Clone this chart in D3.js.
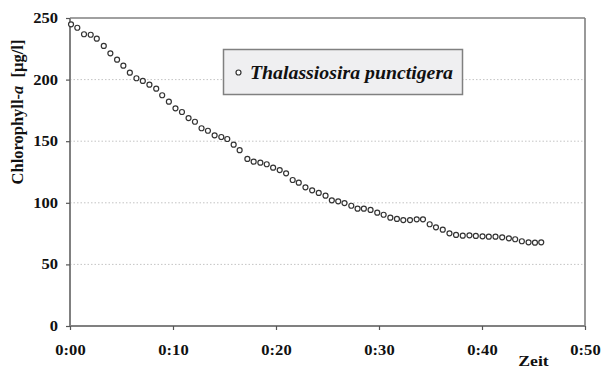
<!DOCTYPE html>
<html><head><meta charset="utf-8">
<script src="https://cdn.jsdelivr.net/npm/d3@7"></script>
<style>
html,body{margin:0;padding:0;background:#fff;}
svg{display:block;}
</style></head>
<body>
<svg id="chart" width="601" height="369"></svg>
<script>
// Data (time in minutes, chlorophyll-a in µg/l)
const timeMin = [0.10,0.71,1.36,2.01,2.60,3.28,3.92,4.57,5.18,5.81,6.45,7.07,7.71,8.37,8.95,9.60,10.24,10.87,11.51,12.13,12.77,13.39,14.04,14.69,15.27,15.89,16.47,17.22,17.83,18.48,19.10,19.72,20.36,20.98,21.62,22.21,22.86,23.51,24.15,24.81,25.42,26.04,26.65,27.31,27.92,28.53,29.18,29.83,30.45,31.10,31.74,32.36,33.01,33.66,34.27,34.92,35.53,36.19,36.84,37.48,38.13,38.78,39.40,40.05,40.66,41.31,41.96,42.61,43.22,43.87,44.52,45.14,45.75];
const chlA = [244.9,242.1,236.8,236.4,233.2,227.3,221.3,216.2,211.3,205.6,201.1,198.9,195.9,192.6,187.3,182.1,176.7,173.7,168.8,165.8,160.5,158.5,154.8,153.4,151.8,147.2,142.7,135.6,133.4,132.6,131.3,128.5,126.6,123.9,118.5,116.3,112.6,110.1,108.0,105.8,102.0,101.2,99.8,97.6,95.2,95.2,94.2,92.0,90.3,87.9,86.9,86.0,86.0,86.6,86.6,82.6,80.1,78.2,75.2,73.9,73.3,73.6,73.1,72.8,72.5,72.5,72.0,71.2,70.4,68.8,67.9,67.6,67.9];
const xTicks = [0,10,20,30,40,50];
const xTickLabels = ["0:00","0:10","0:20","0:30","0:40","0:50"];
const yTicks = [0,50,100,150,200,250];
const seriesName = "Thalassiosira punctigera";
const xTitle = "Zeit";

const FONT = "Liberation Serif";
const STRETCH = 1.18; // reference text is horizontally widened
const svg = d3.select("#chart");
const L = 70, R = 585, T = 18, B = 326;
const x = d3.scaleLinear().domain([0,50]).range([L,R]);
const y = d3.scaleLinear().domain([0,250]).range([B,T]);
const gray = "#808080";
function widen(sel){ sel.each(function(){ const w=this.getComputedTextLength(); d3.select(this).attr("textLength",w*STRETCH).attr("lengthAdjust","spacingAndGlyphs"); }); }

// gridlines
svg.append("g").selectAll("line").data(yTicks.filter(v=>v>0 && v<250)).join("line")
  .attr("x1",L).attr("x2",R).attr("y1",d=>y(d)).attr("y2",d=>y(d))
  .attr("stroke","#c4c4c4").attr("stroke-width",1).attr("stroke-dasharray","1.5,2");

// frame top/right
svg.append("line").attr("x1",L).attr("x2",R).attr("y1",T).attr("y2",T).attr("stroke",gray).attr("stroke-width",1.6);
svg.append("line").attr("x1",R).attr("x2",R).attr("y1",T).attr("y2",B).attr("stroke",gray).attr("stroke-width",1.6);

// axes
const xAxis = d3.axisBottom(x).tickValues(xTicks).tickFormat((d,i)=>xTickLabels[i]).tickSize(4).tickPadding(15);
const gx = svg.append("g").attr("transform",`translate(0,${B})`).call(xAxis);
const yAxis = d3.axisLeft(y).tickValues(yTicks).tickSize(4).tickPadding(8);
const gy = svg.append("g").attr("transform",`translate(${L},0)`).call(yAxis);
[gx,gy].forEach(g=>{
  g.attr("font-family",FONT).attr("font-size",14);
  g.select(".domain").attr("stroke",gray).attr("stroke-width",2);
  g.selectAll(".tick line").attr("stroke","#555").attr("stroke-width",1.2);
  g.selectAll(".tick text").attr("fill","#111").attr("font-size",14).attr("font-weight","bold")
   .attr("font-family",FONT).call(widen);
});
gx.select(".domain").attr("d",`M${L},0H${R}`);
gy.select(".domain").attr("d",`M0,${B}V${T}`);

// points
svg.append("g").selectAll("circle").data(timeMin.map((t,i)=>[t,chlA[i]])).join("circle")
  .attr("cx",d=>x(d[0])).attr("cy",d=>y(d[1])).attr("r",2.5)
  .attr("fill","#fff").attr("stroke","#333").attr("stroke-width",1.2);

// y title
const yt = svg.append("text").attr("transform",`translate(23,112) rotate(-90)`)
  .attr("text-anchor","middle").attr("font-family",FONT).attr("font-weight","bold").attr("font-size",16.5).attr("fill","#111");
yt.append("tspan").text("Chlorophyll-");
yt.append("tspan").attr("font-style","italic").text("a");
yt.append("tspan").text("\u00a0\u00a0[µg/l]");

// x title
svg.append("text").attr("x",533.5).attr("y",366).attr("text-anchor","middle").attr("font-family",FONT)
  .attr("font-weight","bold").attr("font-size",15).attr("fill","#111").text(xTitle).call(widen);

// legend
const lg = svg.append("g");
lg.append("rect").attr("x",223.5).attr("y",49.5).attr("width",239).attr("height",45)
  .attr("fill","#efeff1").attr("stroke",gray).attr("stroke-width",1.5);
lg.append("circle").attr("cx",238.5).attr("cy",72.5).attr("r",2.5).attr("fill","#fff").attr("stroke","#333").attr("stroke-width",1.2);
lg.append("text").attr("x",250).attr("y",79).attr("font-family",FONT).attr("font-weight","bold").attr("font-style","italic")
  .attr("font-size",19.5).attr("fill","#111").text(seriesName)
  .attr("textLength",203).attr("lengthAdjust","spacingAndGlyphs");
</script>
</body></html>
